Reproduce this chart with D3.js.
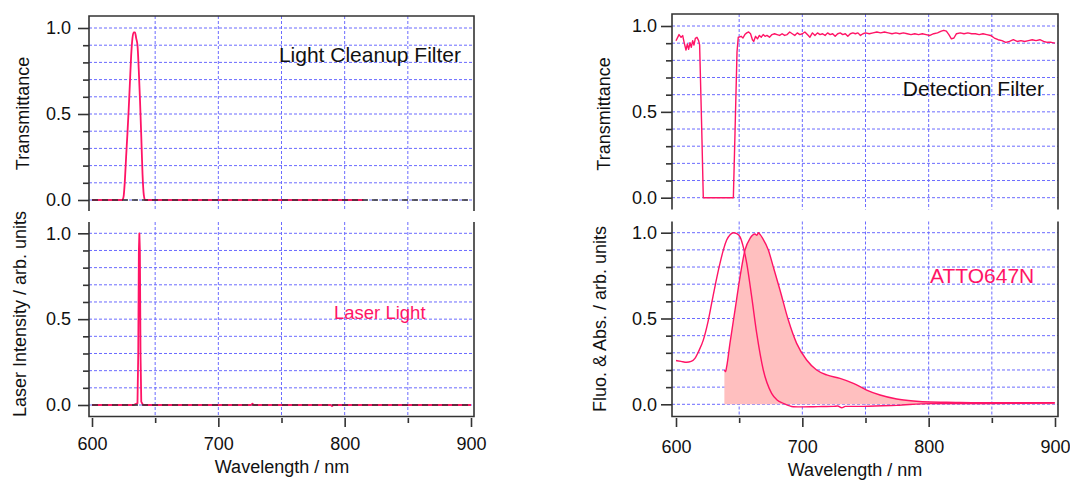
<!DOCTYPE html>
<html><head><meta charset="utf-8">
<script src="https://cdn.jsdelivr.net/npm/d3@7"></script>
<style>
body{margin:0;background:#fff}
svg{display:block}
text{font-family:"Liberation Sans",Arial,sans-serif}
</style>
</head><body><svg id="c" width="1070" height="481"></svg>
<script>
// ---------------- data ----------------
const xTickValues = [600, 700, 800, 900];
const xMinorTicks = [650, 750, 850];
const xGridValues = [650, 700, 750, 800, 850];
const yTickValues = [0, 0.5, 1.0];
const yMinorTicks = [0.1, 0.2, 0.3, 0.4, 0.6, 0.7, 0.8, 0.9];
const yGridValues = [0, 0.1, 0.2, 0.3, 0.4, 0.5, 0.6, 0.7, 0.8, 0.9, 1.0];

const cleanupWl = [600, 620, 624, 625, 626, 627, 628, 629, 630, 631, 632, 633, 634, 635, 636, 637, 638, 639, 640, 641, 642, 660, 700, 750, 815];
const cleanupT  = [0, 0, 0, 0.02, 0.11, 0.25, 0.38, 0.52, 0.68, 0.84, 0.94, 0.975, 0.975, 0.94, 0.9, 0.76, 0.58, 0.37, 0.15, 0.03, 0, 0, 0, 0, 0];

const laserWl = [600, 633, 634.5, 636, 636.6, 637.1, 637.5, 637.9, 638.4, 639, 640, 641, 726, 727, 728, 789, 790, 791, 900];
const laserI  = [0, 0, 0.005, 0.01, 0.3, 0.9, 1.0, 0.9, 0.3, 0.02, 0.005, 0, 0, 0.008, 0, 0, -0.006, 0, 0];

const detWl = [600, 602.4, 604, 605.3, 606.6, 607.9, 609, 610, 611.1, 612.1, 613.2, 614.2, 615.3, 616.6, 617.9, 618.7, 620.3, 621.6, 630, 645.4, 646.7, 648.3, 649.3,
  650, 651.5, 653, 654.5, 656, 657.5, 659, 660.5, 661.5, 663, 664.5, 666, 667.5, 669, 670.5, 672, 674, 676, 678, 680, 682, 684, 686, 688, 690, 692, 694, 696, 698,
  700, 702, 704, 706, 708, 710, 712, 714, 716, 718, 720, 722, 724, 726, 728, 730, 732, 734, 736, 738, 740, 742, 744, 746, 748, 750, 753, 756, 759, 762, 765, 768,
  771, 774, 777, 780, 783, 786, 789, 792, 795, 798, 801, 804, 807, 810, 812, 814, 816, 818, 820, 822, 825, 828, 831, 834, 837, 840, 843, 846, 849, 852, 855, 858,
  861, 864, 867, 870, 873, 876, 879, 882, 885, 888, 891, 894, 897, 900];
const detT = [0.914, 0.95, 0.934, 0.944, 0.899, 0.86, 0.895, 0.864, 0.903, 0.876, 0.915, 0.889, 0.928, 0.934, 0.915, 0.89, 0.42, 0.0, 0.0, 0.0, 0.375, 0.85, 0.935,
  0.935, 0.94, 0.93, 0.95, 0.96, 0.965, 0.955, 0.92, 0.91, 0.94, 0.925, 0.945, 0.935, 0.95, 0.94, 0.945, 0.935, 0.95, 0.955, 0.95, 0.945, 0.955, 0.945, 0.95, 0.965, 0.955, 0.945, 0.96, 0.95,
  0.955, 0.965, 0.95, 0.935, 0.96, 0.945, 0.96, 0.95, 0.955, 0.945, 0.96, 0.95, 0.955, 0.94, 0.955, 0.96, 0.95, 0.955, 0.94, 0.955, 0.96, 0.955, 0.96, 0.945, 0.955, 0.96, 0.955, 0.96, 0.965, 0.96, 0.965, 0.96,
  0.955, 0.96, 0.955, 0.96, 0.955, 0.95, 0.955, 0.95, 0.955, 0.95, 0.945, 0.955, 0.96, 0.97, 0.975, 0.97, 0.95, 0.925, 0.93, 0.955, 0.96, 0.955, 0.96, 0.955, 0.955, 0.95, 0.955, 0.95, 0.945, 0.93, 0.92, 0.915,
  0.905, 0.91, 0.92, 0.91, 0.915, 0.91, 0.915, 0.92, 0.915, 0.92, 0.91, 0.905, 0.905, 0.9];

const absWl = [600, 604, 608.4, 612, 615, 618, 621.6, 625, 628.2, 631.5, 634.8, 637.5, 640.1, 643, 645.4, 648, 650.7, 653.5, 656, 659.9, 663.9, 669.1, 675.7, 680, 684.9, 692.8, 700, 708.7, 716, 724.5, 728, 731.2, 734, 748.3, 774.7, 801, 840.6, 870, 899.8];
const absV  = [0.255, 0.25, 0.245, 0.25, 0.268, 0.31, 0.374, 0.47, 0.588, 0.71, 0.821, 0.9, 0.957, 0.99, 1.0, 0.995, 0.976, 0.91, 0.821, 0.627, 0.413, 0.2, 0.064, 0.025, 0.006, -0.014, -0.015, -0.014, -0.013, -0.012, -0.01, -0.02, -0.012, -0.012, -0.006, 0.004, 0.004, 0.006, 0.008];

const fluoWl = [638.3, 639.2, 640.1, 642.7, 646.7, 650.7, 654.6, 658.6, 662.5, 664, 665.2, 666.5, 668.6, 673.1, 677, 682.3, 688.9, 695.5, 703.4, 711.3, 719.3, 729.8, 740.4, 750.9, 761.5, 774.7, 787.9, 801, 814.2, 840.6, 867, 899.8];
const fluoV  = [0.2, 0.19, 0.219, 0.355, 0.549, 0.743, 0.899, 0.967, 0.992, 0.985, 1.0, 0.99, 0.967, 0.899, 0.801, 0.666, 0.491, 0.355, 0.258, 0.2, 0.171, 0.151, 0.122, 0.083, 0.054, 0.031, 0.019, 0.013, 0.012, 0.009, 0.009, 0.01];

// ---------------- styles / layout ----------------
const PINK = "#ff1466";
const FILL = "#ffbfbf";
const GRID = "#6b6bff";
const AXIS = "#333";
const FONT = 18;

const svg = d3.select("#c");

const panels = [
  { x: [92, 471],   y: [200, 28],     f: {l: 89, r: 474, t: 16, b: 211},  top: true,  yPad: 7, dash0: true,
    ylabel: "Transmittance", yl: [29, 113.5] },
  { x: [92, 471],   y: [405, 233.3],  f: {l: 89, r: 474, t: 222, b: 416.5}, top: false, yPad: 7, dash0: true,
    ylabel: "Laser Intensity / arb. units", yl: [25.5, 314], xPad: 10, xl: [282, 473] },
  { x: [676, 1055], y: [197.7, 26],   f: {l: 672, r: 1058, t: 14, b: 209.5}, top: true, yPad: 4, dash0: false,
    ylabel: "Transmittance", yl: [609.5, 114] },
  { x: [676, 1055], y: [404.3, 232.7],f: {l: 672, r: 1058, t: 221.5, b: 416.5}, top: false, yPad: 4, dash0: false,
    ylabel: "Fluo. & Abs. / arb. units", yl: [606, 319], xPad: 13, xl: [855, 476] }
];

panels.forEach(p => {
  p.xs = d3.scaleLinear().domain([600, 900]).range(p.x);
  p.ys = d3.scaleLinear().domain([0, 1]).range(p.y);
  p.g = svg.append("g");
  // grid
  p.g.append("g").selectAll("line").data(yGridValues).join("line")
    .attr("x1", p.f.l).attr("x2", p.f.r)
    .attr("y1", d => p.ys(d)).attr("y2", d => p.ys(d))
    .attr("stroke", GRID).attr("stroke-width", 1).attr("stroke-dasharray", "3,2");
  p.g.append("g").selectAll("line").data(xGridValues).join("line")
    .attr("x1", d => p.xs(d)).attr("x2", d => p.xs(d))
    .attr("y1", p.f.t).attr("y2", p.f.b)
    .attr("stroke", GRID).attr("stroke-width", 1).attr("stroke-dasharray", "3,2");
});

function lineOf(p, xs, ys, curve) {
  const pts = xs.map((w, i) => [w, ys[i]]);
  return d3.line().x(d => p.xs(d[0])).y(d => p.ys(d[1])).curve(curve)(pts);
}
function areaOf(p, xs, ys, curve) {
  const pts = xs.map((w, i) => [w, ys[i]]);
  return d3.area().x(d => p.xs(d[0])).y0(p.ys(0)).y1(d => p.ys(d[1])).curve(curve)(pts);
}

// fluorescence fill
const P3 = panels[3];
P3.g.append("path").attr("d", areaOf(P3, fluoWl, fluoV, d3.curveMonotoneX)).attr("fill", FILL);

// lines
const lineSpecs = [
  [panels[0], cleanupWl, cleanupT, d3.curveMonotoneX, 1.8],
  [panels[1], laserWl, laserI, d3.curveLinear, 1.8],
  [panels[2], detWl, detT, d3.curveLinear, 1.4],
  [panels[3], absWl, absV, d3.curveMonotoneX, 1.4],
  [panels[3], fluoWl, fluoV, d3.curveMonotoneX, 1.4]
];
lineSpecs.forEach(([p, xs, ys, c, w]) => {
  p.g.append("path").attr("d", lineOf(p, xs, ys, c))
    .attr("fill", "none").attr("stroke", PINK).attr("stroke-width", w).attr("stroke-linejoin", "round");
});

// zero dashed line, frame, axes
panels.forEach(p => {
  if (p.dash0) {
    p.g.append("line").attr("x1", p.xs(600)).attr("x2", p.xs(900))
      .attr("y1", p.ys(0)).attr("y2", p.ys(0))
      .attr("stroke", "#333").attr("stroke-width", 1.3).attr("stroke-dasharray", "6,4");
  }
  const f = p.f;
  const d = p.top
    ? `M${f.l},${f.b}V${f.t}H${f.r}V${f.b}`
    : `M${f.l},${f.t}V${f.b}H${f.r}V${f.t}`;
  p.g.append("path").attr("d", d).attr("fill", "none").attr("stroke", AXIS).attr("stroke-width", 1.6);

  // y axis major
  const ya = p.g.append("g").attr("transform", `translate(${f.l},0)`)
    .call(d3.axisLeft(p.ys).tickValues(yTickValues).tickSize(11).tickPadding(p.yPad).tickFormat(d3.format(".1f")));
  const ym = p.g.append("g").attr("transform", `translate(${f.l},0)`)
    .call(d3.axisLeft(p.ys).tickValues(yMinorTicks).tickSize(6).tickFormat(""));
  [ya, ym].forEach(a => {
    a.select(".domain").remove();
    a.selectAll("line").attr("stroke", AXIS).attr("stroke-width", 1.6);
    a.selectAll("text").attr("font-size", FONT).attr("fill", "#111").style("font-family", '"Liberation Sans",Arial,sans-serif');
  });

  // y label
  p.g.append("text").attr("transform", `translate(${p.yl[0]},${p.yl[1]}) rotate(-90)`)
    .attr("text-anchor", "middle").attr("font-size", FONT).attr("fill", "#111").text(p.ylabel);

  if (!p.top) {
    const xa = p.g.append("g").attr("transform", `translate(0,${f.b + 1.5})`)
      .call(d3.axisBottom(p.xs).tickValues(xTickValues).tickSize(9).tickPadding(p.xPad).tickFormat(d3.format("d")));
    const xm = p.g.append("g").attr("transform", `translate(0,${f.b + 1.5})`)
      .call(d3.axisBottom(p.xs).tickValues(xMinorTicks).tickSize(5).tickFormat(""));
    [xa, xm].forEach(a => {
      a.select(".domain").remove();
      a.selectAll("line").attr("stroke", AXIS).attr("stroke-width", 1.6);
      a.selectAll("text").attr("font-size", FONT).attr("fill", "#111").style("font-family", '"Liberation Sans",Arial,sans-serif');
    });
    p.g.append("text").attr("x", p.xl[0]).attr("y", p.xl[1]).attr("text-anchor", "middle")
      .attr("font-size", FONT).attr("fill", "#111").text("Wavelength / nm");
  }
});

// annotations
svg.append("text").attr("x", 461).attr("y", 62).attr("text-anchor", "end").attr("font-size", 21).attr("fill", "#111").text("Light Cleanup Filter");
svg.append("text").attr("x", 1044).attr("y", 96).attr("text-anchor", "end").attr("font-size", 21).attr("fill", "#111").text("Detection Filter");
svg.append("text").attr("x", 334).attr("y", 319).attr("font-size", 18.5).attr("fill", PINK).text("Laser Light");
svg.append("text").attr("x", 930).attr("y", 283).attr("font-size", 21).attr("fill", PINK).text("ATTO647N");
</script></body></html>
